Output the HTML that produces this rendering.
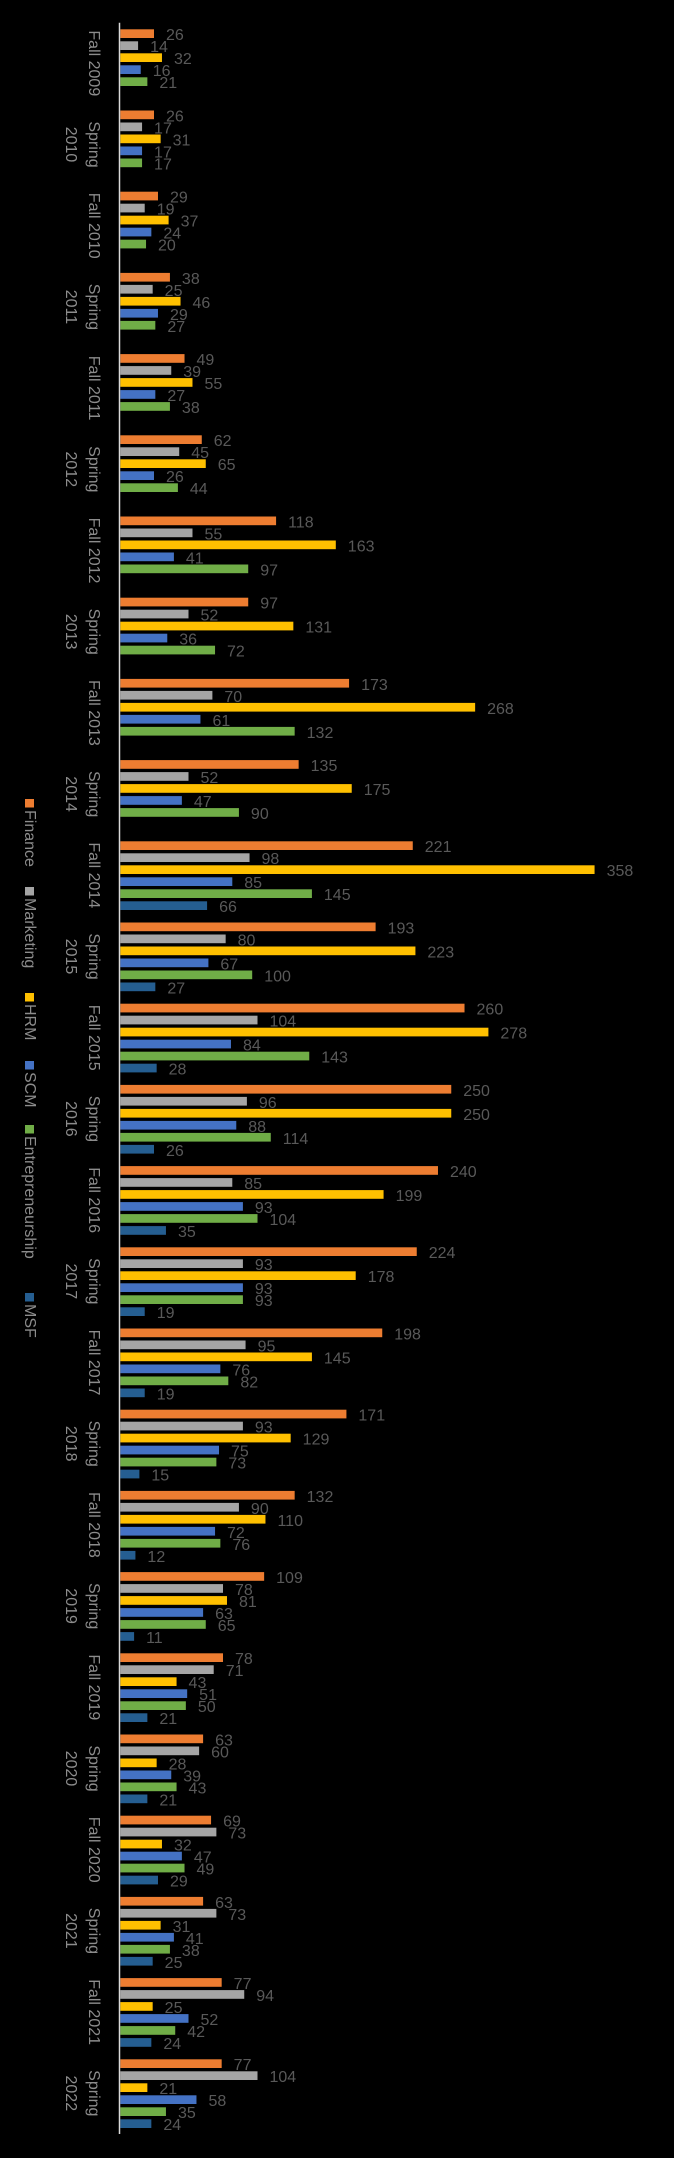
<!DOCTYPE html>
<html><head><meta charset="utf-8"><title>Enrollment by program</title>
<style>
html,body{margin:0;padding:0;background:#000;}
svg{display:block;}
</style></head>
<body>
<svg id="chart" width="674" height="2158" viewBox="0 0 674 2158" xmlns="http://www.w3.org/2000/svg">
<rect x="0" y="0" width="674" height="2158" fill="#000"/>
<g id="bars"></g>
<g id="labels"></g>
<g id="cats"></g>
<line x1="119.5" y1="22.7" x2="119.5" y2="2134" stroke="#d9d9d9" stroke-width="1.5"/>
<g id="legend"></g>
</svg>
<script>
const categories = ["Fall 2009","Spring 2010","Fall 2010","Spring 2011","Fall 2011","Spring 2012","Fall 2012","Spring 2013","Fall 2013","Spring 2014","Fall 2014","Spring 2015","Fall 2015","Spring 2016","Fall 2016","Spring 2017","Fall 2017","Spring 2018","Fall 2018","Spring 2019","Fall 2019","Spring 2020","Fall 2020","Spring 2021","Fall 2021","Spring 2022"];
const seriesNames = ["Finance","Marketing","HRM","SCM","Entrepreneurship","MSF"];
const finance = [26,26,29,38,49,62,118,97,173,135,221,193,260,250,240,224,198,171,132,109,78,63,69,63,77,77];
const marketing = [14,17,19,25,39,45,55,52,70,52,98,80,104,96,85,93,95,93,90,78,71,60,73,73,94,104];
const hrm = [32,31,37,46,55,65,163,131,268,175,358,223,278,250,199,178,145,129,110,81,43,28,32,31,25,21];
const scm = [16,17,24,29,27,26,41,36,61,47,85,67,84,88,93,93,76,75,72,63,51,39,47,41,52,58];
const entrepreneurship = [21,17,20,27,38,44,97,72,132,90,145,100,143,114,104,93,82,73,76,65,50,43,49,38,42,35];
const msf = [null,null,null,null,null,null,null,null,null,null,66,27,28,26,35,19,19,15,12,11,21,21,29,25,24,24];
const seriesColors = ["#ED7D31","#A5A5A5","#FFC000","#4472C4","#70AD47","#255E91"];

const series = [finance, marketing, hrm, scm, entrepreneurship, msf];
const NS = "http://www.w3.org/2000/svg";
const axisX = 119.5, pxPerUnit = 1.327;
const top0 = 22.7, band = 81.2, pitch = 12.0, barH = 8.7, inset = 6.6;
function xScale(v){ return axisX + v * pxPerUnit; }
function yBar(g, s){ return top0 + g * band + inset + s * pitch; }

const barsG = document.getElementById('bars');
const labelsG = document.getElementById('labels');
const catsG = document.getElementById('cats');
const legendG = document.getElementById('legend');

series.forEach((vals, s) => {
  vals.forEach((v, g) => {
    if (v === null) return;
    const y = yBar(g, s);
    const r = document.createElementNS(NS, 'rect');
    r.setAttribute('x', axisX + 0.8);
    r.setAttribute('y', y);
    r.setAttribute('width', Math.max(0, xScale(v) - axisX - 0.8));
    r.setAttribute('height', barH);
    r.setAttribute('fill', seriesColors[s]);
    
    
    barsG.appendChild(r);
    const t = document.createElementNS(NS, 'text');
    t.setAttribute('x', xScale(v) + 12);
    t.setAttribute('y', y + barH / 2 + 6.5);
    t.setAttribute('fill', '#595959');
    t.setAttribute('font-family', 'Liberation Sans, sans-serif');
    t.setAttribute('font-size', '16');
    t.textContent = v;
    
    
    labelsG.appendChild(t);
  });
});

categories.forEach((c, g) => {
  const cy = top0 + g * band + band / 2;
  const parts = c.split(' ');
  const lines = parts[0] === 'Spring' ? [parts[0], parts[1]] : [c];
  lines.forEach((ln, i) => {
    const t = document.createElementNS(NS, 'text');
    t.setAttribute('transform', 'translate(' + (89 - i * 23) + ',' + cy + ') rotate(90)');
    t.setAttribute('text-anchor', 'middle');
    t.setAttribute('fill', '#8c8c8c');
    t.setAttribute('font-family', 'Liberation Sans, sans-serif');
    t.setAttribute('font-size', '16');
    t.textContent = ln;
    
    
    catsG.appendChild(t);
  });
});

const legendY = [799, 887, 993, 1061, 1125, 1293];
seriesNames.forEach((n, s) => {
  const sq = document.createElementNS(NS, 'rect');
  sq.setAttribute('x', 25);
  sq.setAttribute('y', legendY[s]);
  sq.setAttribute('width', 9);
  sq.setAttribute('height', 8.5);
  sq.setAttribute('fill', seriesColors[s]);
  
  
  legendG.appendChild(sq);
  const t = document.createElementNS(NS, 'text');
  t.setAttribute('transform', 'translate(25,' + (legendY[s] + 11) + ') rotate(90)');
  t.setAttribute('fill', '#8c8c8c');
  t.setAttribute('font-family', 'Liberation Sans, sans-serif');
  t.setAttribute('font-size', '16');
  t.textContent = n;
  
  
  legendG.appendChild(t);
});
</script>
</body></html>
